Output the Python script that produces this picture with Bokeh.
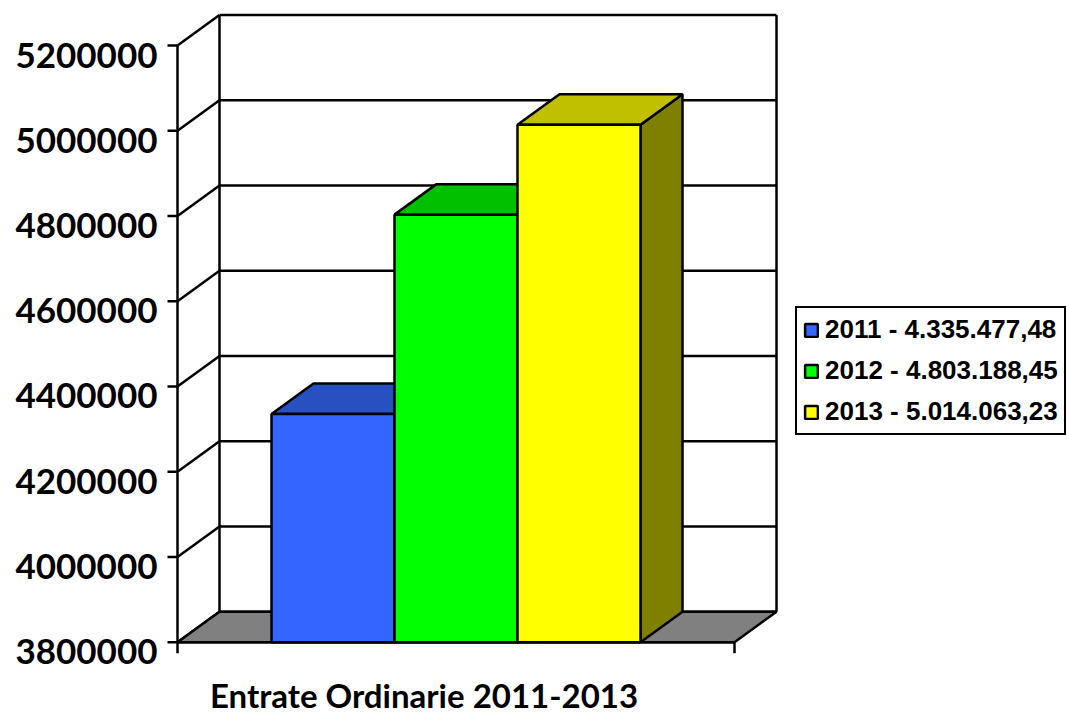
from bokeh.plotting import figure
from bokeh.models import (Range1d, LinearAxis, FixedTicker, BasicTickFormatter,
                          Legend, LegendItem, Label)
from bokeh.embed import file_html
from bokeh.resources import INLINE

# ---------------- data ----------------
years = ["2011", "2012", "2013"]
values = [4335477.48, 4803188.45, 5014063.23]
front_colors = ["#3366FF", "#00FF00", "#FFFF00"]
top_colors = ["#2850C0", "#00C000", "#C0C000"]
side_colors = ["#1E3C90", "#008000", "#808000"]
y_ticks = [3800000, 4000000, 4200000, 4400000, 4600000, 4800000, 5000000, 5200000]
title_text = "Entrate Ordinarie 2011-2013"


def it_fmt(v):
    s = f"{v:,.2f}"
    return s.replace(",", "#").replace(".", ",").replace("#", ".")


legend_labels = [f"{y} - {it_fmt(v)}" for y, v in zip(years, values)]

# ---------------- layout constants (pixels) ----------------
W, H = 1068, 716
PAGE = 0
LEFT_BORDER = 163
FRAME_LEFT = PAGE + LEFT_BORDER          # page x of frame left
FRAME_RIGHT = PAGE + W
FRAME_TOP = PAGE
FRAME_BOTTOM = PAGE + H
Y_MIN, Y_MAX = y_ticks[0], y_ticks[-1]
PY_BASE = 641.7                          # page y of Y_MIN on front plane
PX_PER_UNIT = 596.7 / (Y_MAX - Y_MIN)
DX, DY = 42.0, 30.5                      # depth offset in px
DYV = DY / PX_PER_UNIT
FRONT_X0, FRONT_X1 = 177.0, 734.0
LABEL_SHIFT = 9.5
LW = 2.5


def v_of(py, shift=0.0):
    return Y_MIN + (PY_BASE + shift - py) / PX_PER_UNIT


n = len(values)
BAR_W = 123.0
gap = (FRONT_X1 - FRONT_X0 - n * BAR_W) / 2
lefts = [FRONT_X0 + gap + i * BAR_W for i in range(n)]
rights = [l + BAR_W for l in lefts]

p = figure(width=W, height=H,
           x_range=Range1d(FRAME_LEFT, FRAME_RIGHT),
           y_range=Range1d(v_of(FRAME_BOTTOM), v_of(FRAME_TOP)),
           output_backend="svg", toolbar_location=None,
           x_axis_location=None, y_axis_location=None,
           min_border_left=LEFT_BORDER, min_border_right=0,
           min_border_top=0, min_border_bottom=0,
           outline_line_color=None, background_fill_color="white")
p.grid.visible = False

# label axis on a shifted range (labels sit slightly below the ticks)
p.extra_y_ranges = {"labels": Range1d(v_of(FRAME_BOTTOM, LABEL_SHIFT),
                                      v_of(FRAME_TOP, LABEL_SHIFT))}
yax = LinearAxis(y_range_name="labels", ticker=FixedTicker(ticks=y_ticks),
                 formatter=BasicTickFormatter(use_scientific=False),
                 axis_line_color=None, major_tick_line_color=None,
                 minor_tick_line_color=None, major_tick_in=0, major_tick_out=0,
                 major_label_standoff=6,
                 major_label_text_font="Lato",
                 major_label_text_font_style="bold",
                 major_label_text_font_size="35px",
                 major_label_text_color="black")
p.add_layout(yax, "left")

# ---------------- back wall ----------------
bx0, bx1 = FRONT_X0 + DX, FRONT_X1 + DX
p.segment(x0=[bx0] * len(y_ticks), x1=[bx1] * len(y_ticks),
          y0=[t + DYV for t in y_ticks], y1=[t + DYV for t in y_ticks],
          line_color="black", line_width=LW)
p.segment(x0=[bx0, bx1], x1=[bx0, bx1],
          y0=[Y_MIN + DYV] * 2, y1=[Y_MAX + DYV] * 2,
          line_color="black", line_width=LW)

# ---------------- left wall diagonals ----------------
p.segment(x0=[FRONT_X0] * len(y_ticks), x1=[bx0] * len(y_ticks),
          y0=y_ticks, y1=[t + DYV for t in y_ticks],
          line_color="black", line_width=LW)

# ---------------- floor ----------------
p.patch(x=[FRONT_X0, FRONT_X1, bx1, bx0],
        y=[Y_MIN, Y_MIN, Y_MIN + DYV, Y_MIN + DYV],
        fill_color="#808080", line_color="black", line_width=LW)

# ---------------- front axis lines & ticks ----------------
p.segment(x0=[FRONT_X0, FRONT_X0], x1=[FRONT_X0, FRONT_X1],
          y0=[Y_MIN, Y_MIN], y1=[Y_MAX, Y_MIN],
          line_color="black", line_width=LW)
p.segment(x0=[FRONT_X0 - 10] * len(y_ticks), x1=[FRONT_X0] * len(y_ticks),
          y0=y_ticks, y1=y_ticks, line_color="black", line_width=LW)
tick_down = 11 / PX_PER_UNIT
p.segment(x0=[FRONT_X0, FRONT_X1], x1=[FRONT_X0, FRONT_X1],
          y0=[Y_MIN, Y_MIN], y1=[Y_MIN - tick_down] * 2,
          line_color="black", line_width=LW)

# ---------------- bars ----------------
p.patches(xs=[[r, r + DX, r + DX, r] for r in rights],
          ys=[[Y_MIN, Y_MIN + DYV, v + DYV, v] for v in values],
          fill_color=side_colors, line_color="black", line_width=LW)
p.patches(xs=[[l, r, r + DX, l + DX] for l, r in zip(lefts, rights)],
          ys=[[v, v, v + DYV, v + DYV] for v in values],
          fill_color=top_colors, line_color="black", line_width=LW)
fronts = p.quad(left=lefts, right=rights, top=values, bottom=[Y_MIN] * n,
                fill_color=front_colors, line_color="black", line_width=LW)

# ---------------- legend ----------------
items = [LegendItem(label=lab, renderers=[fronts], index=i)
         for i, lab in enumerate(legend_labels)]
legend = Legend(items=items,
                location=(795 - FRAME_LEFT, FRAME_BOTTOM - 435),
                orientation="vertical", margin=0, padding=6, spacing=10,
                label_height=28, glyph_width=16, glyph_height=16,
                label_standoff=6,
                label_text_font="Liberation Sans",
                label_text_font_style="bold",
                label_text_font_size="26px",
                label_text_color="black",
                border_line_color="black", border_line_width=2,
                border_line_alpha=1.0,
                background_fill_color="white", background_fill_alpha=1.0)
p.add_layout(legend)

# ---------------- title below ----------------
p.add_layout(Label(x=423.5, y=v_of(694.5), text=title_text,
                   text_align="center", text_baseline="middle",
                   text_font="Lato", text_font_style="bold",
                   text_font_size="33px", text_color="black"))

open("out.html", "w").write(file_html(p, INLINE))
